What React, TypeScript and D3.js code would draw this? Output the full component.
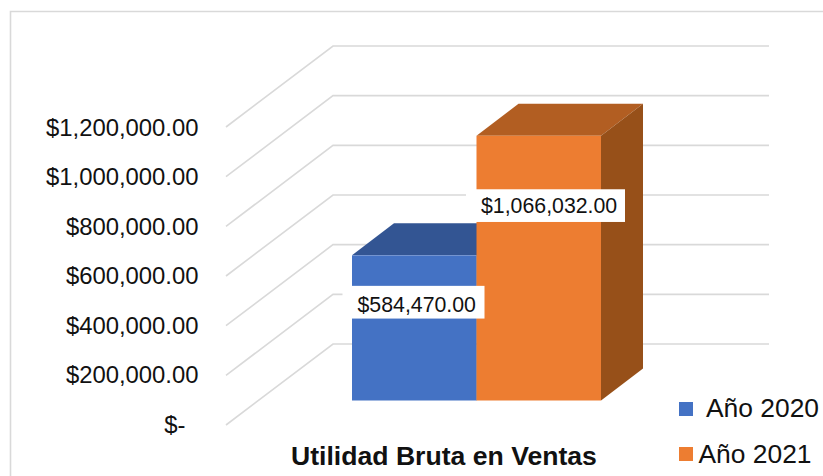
import React from "react";
import * as d3 from "d3";

const categories = ["Año 2020", "Año 2021"];
const values = [584470, 1066032];
const valueLabels = ["$584,470.00", "$1,066,032.00"];
const tickValues = [0, 200000, 400000, 600000, 800000, 1000000, 1200000];
const tickLabels = ["$-", "$200,000.00", "$400,000.00", "$600,000.00", "$800,000.00", "$1,000,000.00", "$1,200,000.00"];
const title = "Utilidad Bruta en Ventas";
const faceColors = ["#4472c4", "#ed7d31"];
const topColors = ["#335593", "#b25e22"];
const sideColors = ["#29477d", "#975019"];

const FONT = "'Liberation Sans', Arial, sans-serif";
const GRID = "#d9d9d9";

export default function App() {
  // back wall of the 3D box
  const yBack = d3.scaleLinear().domain([0, 1200000]).range([344, 46]);
  const yLabel = d3.scaleLinear().domain([0, 1200000]).range([432.7, 136]);
  const wallLeft = 333, wallRight = 769, floorLeft = 226;
  const floorDrop = 81;
  // bars stand on a plane nearer the front
  const yFront = (v: number) => yBack(v) + 56.5;
  const x = d3.scaleBand().domain(categories).range([352, 601]).padding(0);
  const depthX = 42, depthY = 32;
  const line = d3.line<[number, number]>();

  return (
    <svg width={823} height={476} style={{ position: "absolute", left: 0, top: 0, display: "block", background: "#fff" }} fontFamily={FONT}>
      <path d="M823 11.5H10.5V476" fill="none" stroke={GRID} strokeWidth={1.6} />

      {tickValues.map((t) => (
        <path
          key={t}
          d={line([[floorLeft, yBack(t) + floorDrop], [wallLeft, yBack(t)], [wallRight, yBack(t)]]) ?? ""}
          fill="none"
          stroke={GRID}
          strokeWidth={1.6}
        />
      ))}

      {tickValues.map((t, i) => (
        <text
          key={t}
          x={t === 0 ? 185.5 : 198.5}
          y={yLabel(t)}
          textAnchor="end"
          fontSize={23.85}
          fill="#111"
        >
          {tickLabels[i]}
        </text>
      ))}

      {categories.map((c, i) => {
        const x0 = x(c) as number;
        const x1 = x0 + x.bandwidth();
        const top = yFront(values[i]);
        const base = yFront(0);
        return (
          <g key={c}>
            <path
              d={(line([[x0, top], [x0 + depthX, top - depthY], [x1 + depthX, top - depthY], [x1, top]]) ?? "") + "Z"}
              fill={topColors[i]}
            />
            <path
              d={(line([[x1, top], [x1 + depthX, top - depthY], [x1 + depthX, base - depthY], [x1, base]]) ?? "") + "Z"}
              fill={sideColors[i]}
            />
            <rect x={x0} y={top} width={x.bandwidth()} height={base - top} fill={faceColors[i]} />
          </g>
        );
      })}

      {categories.map((c, i) => {
        const x0 = x(c) as number;
        const top = yFront(values[i]);
        const boxLeft = x0 - 9.5 + (i === 1 ? -1 : 0);
        const boxWidth = i === 0 ? 142 : 159;
        const boxTop = top + 30.5 + (i === 0 ? 0 : 23);
        return (
          <g key={c + "-label"}>
            <rect x={boxLeft} y={boxTop} width={boxWidth} height={32.7} fill="#fff" />
            <text x={boxLeft + 15} y={boxTop + (i === 0 ? 26 : 24)} fontSize={21.3} fill="#111">
              {valueLabels[i]}
            </text>
          </g>
        );
      })}

      <text x={291} y={464.7} fontSize={26.6} fontWeight="bold" fill="#111">
        {title}
      </text>

      <rect x={679} y={402} width={14} height={14} fill={faceColors[0]} />
      <text x={706} y={417} fontSize={26.4} fill="#111">{categories[0]}</text>
      <rect x={679} y={447} width={14} height={14} fill={faceColors[1]} />
      <text x={698.5} y={462.7} fontSize={26.4} fill="#111">{categories[1]}</text>
    </svg>
  );
}
